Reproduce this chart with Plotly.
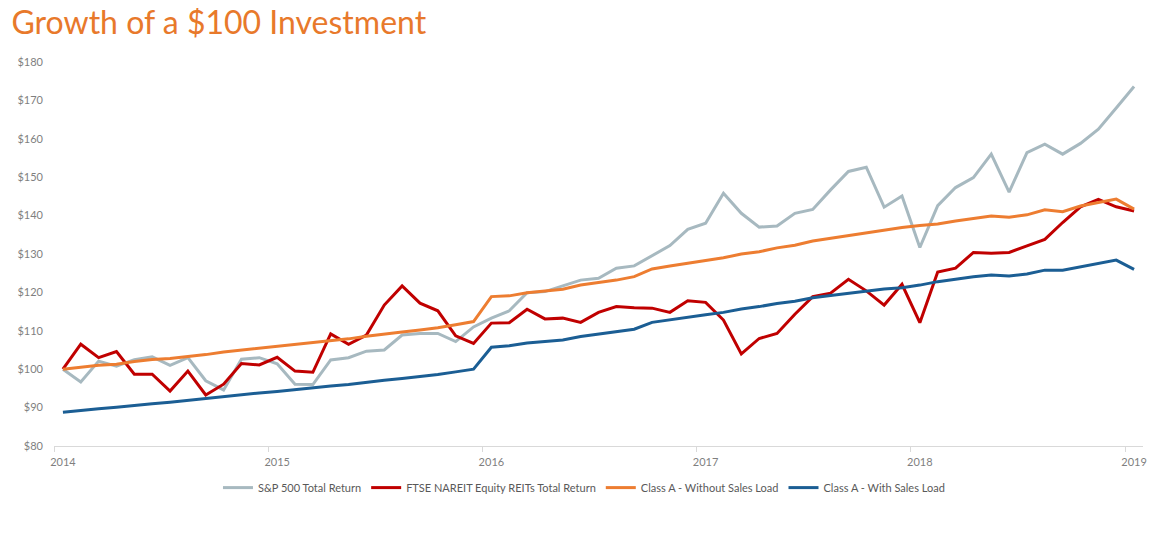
import plotly.graph_objects as go

# Valores mensuales, enero 2014 - enero 2019
anios = ['2014', '2015', '2016', '2017', '2018', '2019']

sp500 = [100, 96.7, 102.1, 100.8, 102.5, 103.2, 101.0, 103.0, 97.0, 94.6, 102.6, 103.0,
         101.4, 96.1, 96.0, 102.4, 103.0, 104.7, 105.0, 108.9, 109.3, 109.3, 107.2, 111.0,
         113.3, 115.2, 119.9, 120.2, 121.7, 123.2, 123.7, 126.3, 126.9, 129.5, 132.2, 136.4,
         138.0, 145.8, 140.6, 137.0, 137.3, 140.6, 141.6, 146.7, 151.5, 152.6, 142.2, 145.1,
         131.7, 142.6, 147.3, 149.9, 156.0, 146.1, 156.4, 158.6, 156.0, 158.8, 162.5, 168.0,
         173.6]

reits = [100, 106.5, 103.0, 104.6, 98.7, 98.7, 94.3, 99.5, 93.3, 96.1, 101.5, 101.1,
         103.1, 99.5, 99.2, 109.2, 106.5, 108.9, 116.7, 121.7, 117.2, 115.2, 108.7, 106.7,
         112.0, 112.1, 115.6, 113.1, 113.3, 112.2, 114.8, 116.3, 116.0, 115.9, 114.8, 117.8,
         117.4, 112.8, 104.0, 108.0, 109.3, 114.3, 118.9, 119.8, 123.4, 120.4, 116.7, 122.1,
         112.1, 125.3, 126.3, 130.4, 130.2, 130.4, 132.1, 133.8, 138.2, 142.3, 144.2, 142.3,
         141.2]

sin_carga = [100, 100.5, 101.0, 101.3, 102.0, 102.5, 102.8, 103.3, 103.8, 104.5, 105.0, 105.5,
             105.9, 106.4, 106.9, 107.4, 107.9, 108.6, 109.2, 109.7, 110.2, 110.8, 111.6, 112.4,
             118.9, 119.1, 119.9, 120.3, 120.8, 121.9, 122.6, 123.2, 124.1, 126.1, 126.9, 127.6,
             128.3, 129.0, 130.0, 130.6, 131.6, 132.3, 133.4, 134.1, 134.7, 135.4, 136.1, 136.9,
             137.4, 137.8, 138.6, 139.3, 139.9, 139.6, 140.2, 141.5, 141.0, 142.5, 143.4, 144.3,
             141.7]

con_carga = [88.8, 89.3, 89.7, 90.1, 90.6, 91.0, 91.4, 91.9, 92.4, 92.9, 93.3, 93.8,
             94.2, 94.7, 95.1, 95.6, 96.0, 96.6, 97.1, 97.6, 98.1, 98.6, 99.3, 100.0,
             105.7, 106.1, 106.8, 107.2, 107.6, 108.5, 109.1, 109.7, 110.4, 112.2, 112.9, 113.5,
             114.2, 114.8, 115.7, 116.3, 117.1, 117.7, 118.6, 119.2, 119.8, 120.4, 120.9, 121.2,
             121.9, 122.8, 123.4, 124.1, 124.5, 124.3, 124.8, 125.8, 125.8, 126.7, 127.6, 128.4,
             126.0]

meses = list(range(len(sp500)))

series = [
    ('S&P 500 Total Return', sp500, '#A7B9C0'),
    ('FTSE NAREIT Equity REITs Total Return', reits, '#C00000'),
    ('Class A - Without Sales Load', sin_carga, '#ED7D31'),
    ('Class A - With Sales Load', con_carga, '#1B5E94'),
]

fig = go.Figure()
for nombre, valores, color in series:
    fig.add_trace(go.Scatter(x=meses, y=valores, name=nombre, mode='lines',
                             line=dict(color=color, width=3)))

# la página añade 8px de margen al cuerpo: se compensa aquí
fig.update_layout(
    width=1169, height=545,
    paper_bgcolor='white', plot_bgcolor='white',
    margin=dict(l=46, r=34, t=54, b=107, autoexpand=False),
    font=dict(family='Lato', size=11, color='#7F7F7F'),
    title=dict(text='Growth of a $100 Investment', x=0.003, xanchor='left',
               y=0.972, yanchor='middle', yref='container',
               font=dict(family='Lato', size=32, color='#E8792B')),
    legend=dict(orientation='h', xref='container', x=0.4927, xanchor='center',
                yref='container', y=0.12, yanchor='middle',
                font=dict(size=11, color='#595959'), itemwidth=30),
    showlegend=True,
)

fig.update_xaxes(range=[-0.5, 60.5], tickvals=[0, 12, 24, 36, 48, 60], ticktext=anios,
                 showgrid=False, zeroline=False, showline=True, linecolor='#D9D9D9',
                 linewidth=1, ticks='', ticklabelstandoff=6, automargin=False,
                 minor=dict(tick0=-0.5, dtick=12, ticks='outside', ticklen=5,
                            tickcolor='#D9D9D9', showgrid=False))
fig.update_yaxes(range=[80, 180], dtick=10, tickprefix='$', showgrid=False,
                 zeroline=False, showline=False, ticklabelstandoff=10, automargin=False)

fig.write_html('out.html')
